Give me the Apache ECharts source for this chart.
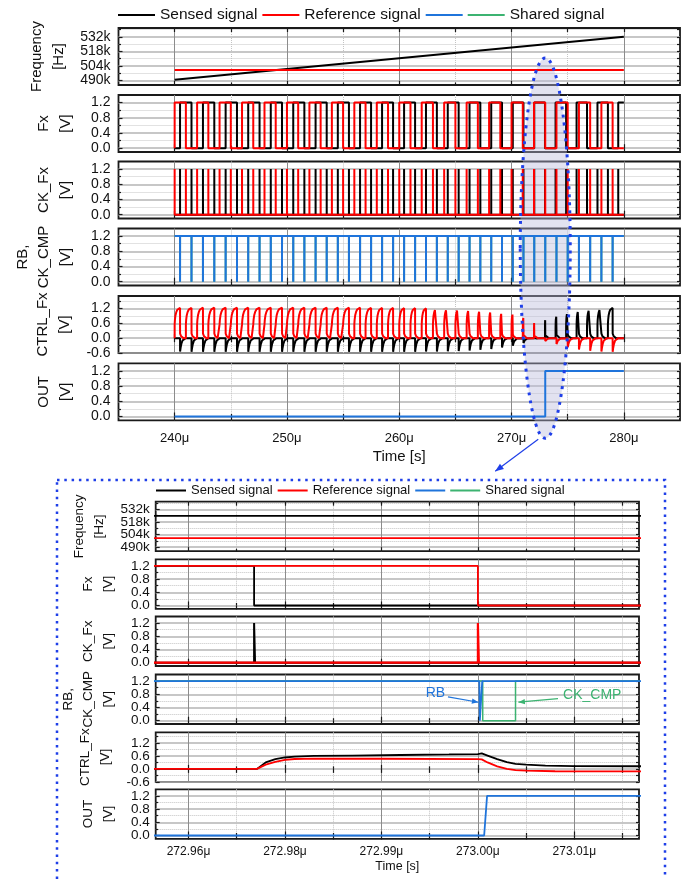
<!DOCTYPE html>
<html>
<head>
<meta charset="utf-8">
<script src="https://cdn.jsdelivr.net/npm/echarts@6/dist/echarts.min.js"></script>
<style>
html, body { margin: 0; padding: 0; background: #fff; }
#chart { width: 690px; height: 879px; }
</style>
</head>
<body>
<div id="chart"></div>
<script>
// ---------------- data ----------------
var freqTicks = [490, 504, 518, 532];
var freqMinor = [497, 511, 525, 539];
var voltTicks = [0, 0.4, 0.8, 1.2];
var voltMinor = [0.2, 0.6, 1.0];
var ctrlTicks = [-0.6, 0, 0.6, 1.2];
var ctrlMinor = [-0.3, 0.3, 0.9, 1.5];

var topTimeTicks = [240, 250, 260, 270, 280];               // us
var topTimeMinor = [245, 255, 265, 275];
var topTimeLabels = ['240μ', '250μ', '260μ', '270μ', '280μ'];
var zoomTimeTicks = [272970, 272980, 272990, 273000, 273010]; // ns
var zoomTimeMinor = [272975, 272985, 272995, 273005, 273015];
var zoomTimeLabels = ['272.96μ', '272.98μ', '272.99μ', '273.00μ', '273.01μ'];

// frequency in kHz
var sensedFreq = [[240, 490.6], [280, 532]];
var refFreq = [[240, 500], [280, 500]];

// Fx edges (us): both square waves start low
var refEdges = [240, 241, 242, 243, 244, 245, 246, 247, 248, 249, 250, 251, 252, 253, 254, 255, 256, 257, 258, 259,
  260, 261, 262, 263, 264, 265, 266, 267, 268, 269, 270, 271, 272, 273, 274, 275, 276, 277, 278, 279];
var sensedEdges = [240.48, 241.50, 242.52, 243.53, 244.54, 245.55, 246.55, 247.56, 248.56, 249.56,
  250.56, 251.55, 252.55, 253.54, 254.53, 255.52, 256.51, 257.49, 258.47, 259.45,
  260.43, 261.41, 262.38, 263.35, 264.32, 265.29, 266.26, 267.22, 268.19, 269.15,
  270.11, 271.06, 272.02, 272.977, 273.92, 274.86, 275.79, 276.72, 277.65, 278.58, 279.50];
// reset pulses (us)
var rbTimes = [240.48, 241.50, 242.52, 243.53, 244.54, 245.55, 246.55, 247.56, 248.56, 249.56,
  250.56, 251.55, 252.55, 253.54, 254.53, 255.52, 256.51, 257.49, 258.47, 259.45,
  260.43, 261.41, 262.38, 263.35, 264.32, 265.29, 266.26, 267.22, 268.19, 269.15,
  270.11, 271.06, 272.02, 273.00, 274.00, 275.00, 276.00, 277.00, 278.00, 279.00];
// CTRL_Fx pulse peaks (leading signal) and dips (lagging signal), V
var ctrlPeaks = [1.22, 1.22, 1.23, 1.23, 1.23, 1.23, 1.23, 1.23, 1.23, 1.23,
  1.23, 1.23, 1.23, 1.23, 1.23, 1.23, 1.23, 1.22, 1.22, 1.22,
  1.21, 1.21, 1.20, 1.20, 1.19, 1.18, 1.16, 1.13, 1.10, 1.04,
  0.97, 0.83, 0.65, 0.74, 0.88, 1.03, 1.12, 1.17, 1.20, 1.22];
var ctrlDips = [-0.54, -0.55, -0.55, -0.55, -0.55, -0.55, -0.55, -0.55, -0.55, -0.55,
  -0.55, -0.55, -0.55, -0.55, -0.55, -0.55, -0.55, -0.55, -0.55, -0.55,
  -0.55, -0.55, -0.54, -0.54, -0.53, -0.52, -0.50, -0.47, -0.44, -0.38,
  -0.31, -0.20, -0.08, -0.12, -0.24, -0.37, -0.46, -0.51, -0.54, -0.55];
// pulse outlines: [fraction of pulse time, fraction of peak]
var riseShape = [[0, 0.45], [0.05, 0.6], [0.15, 0.75], [0.3, 0.86], [0.5, 0.94], [0.75, 0.98], [1, 1]];
var dropShape = [[0.004, 0.15], [0.1, 0.06], [0.3, 0]];       // [us after reset, fraction of peak]
var dipShape = [[0.004, 1], [0.05, 0.72], [0.12, 0.42], [0.22, 0.18], [0.36, 0.05], [0.5, 0]];
var outTop = [[240, 0], [273.0, 0], [273.0, 1.2], [280, 1.2]];

// zoomed window (ns)
var zoomSensedFreq = [[272960, 524.8], [273020, 524.8]];
var zoomRefFreq = [[272960, 500], [273020, 500]];
var zoomSensedFx = [[272960, 1.2], [272976.8, 1.2], [272976.8, 0], [273020, 0]];
var zoomRefFx = [[272960, 1.2], [273000, 1.2], [273000, 0], [273020, 0]];
var zoomSensedCk = [[272960, 0], [272976.8, 0], [272976.8, 1.2], [272976.9, 1.2], [272976.9, 0], [273020, 0]];
var zoomRefCk = [[272960, 0], [273000, 0], [273000, 1.2], [273000.1, 1.2], [273000.1, 0], [273020, 0]];
var zoomRb = [[272960, 1.2], [273000.15, 1.2], [273000.2, 0], [273000.4, 0], [273000.45, 1.2],
  [273004.2, 1.2], [273004.25, 1.15], [273004.35, 1.2], [273020, 1.2]];
var zoomCkCmp = [[272960, 1.2], [273000.5, 1.2], [273000.5, 0], [273003.9, 0], [273003.9, 1.2], [273020, 1.2]];
var zoomSensedCtrl = [[272960, 0], [272977.1, 0], [272978, 0.3], [272979, 0.45], [272980, 0.53], [272981, 0.57],
  [272983, 0.6], [272987, 0.62], [272992, 0.645], [272997, 0.67], [273000, 0.69], [273000.4, 0.72],
  [273001, 0.62], [273002, 0.45], [273003, 0.31], [273003.9, 0.23], [273004.1, 0.26], [273005, 0.2],
  [273007, 0.15], [273010, 0.13], [273020, 0.12]];
var zoomRefCtrl = [[272960, 0], [272977.1, 0], [272978, 0.2], [272979, 0.33], [272980, 0.42], [272981, 0.46],
  [272983, 0.48], [272990, 0.47], [273000, 0.45], [273000.4, 0.44], [273001, 0.3], [273002, 0.12],
  [273003, 0.0], [273003.9, -0.06], [273004.1, -0.03], [273005, -0.08], [273008, -0.11], [273020, -0.12]];
var zoomOut = [[272960, 0], [273000.65, 0], [273000.95, 1.2], [273020, 1.2]];

// ---------------- helpers ----------------
var FONT = '"Liberation Sans", Arial, sans-serif';
var BLACK = '#000000', RED = '#ff0000', BLUE = '#1f74db', GREEN = '#3cb371', DOTS = '#1f3fe8';
var HIGH = 1.2;

function stepWave(edges, start, t0, t1) {
	var lv = start, pts = [[t0, lv]];
	edges.forEach(function(e) {
		pts.push([e, lv]);
		lv = lv ? 0 : HIGH;
		pts.push([e, lv]);
	});
	pts.push([t1, lv]);
	return pts;
}

function pulses(times, base, peak, w, t0, t1) {
	var pts = [[t0, base]];
	times.forEach(function(t) {
		pts.push([t, base], [t, peak], [t + w, peak], [t + w, base]);
	});
	pts.push([t1, base]);
	return pts;
}

// CTRL_Fx of one signal: rises while it leads, dips when it lags
function buildCtrl(isRef) {
	var pts = [[240, 0]];
	for (var j = 0; j < rbTimes.length; j++) {
		var r = refEdges[j], s = sensedEdges[j], end = rbTimes[j];
		var start = Math.min(r, s);
		var leads = isRef ? r <= s : s < r;
		if (leads) {
			pts.push([start, 0]);
			riseShape.forEach(function(p) { pts.push([start + p[0] * (end - start), p[1] * ctrlPeaks[j]]); });
			dropShape.forEach(function(p) { pts.push([end + p[0], p[1] * ctrlPeaks[j]]); });
		} else {
			pts.push([end, 0]);
			dipShape.forEach(function(p) { pts.push([end + p[0], p[1] * ctrlDips[j]]); });
		}
	}
	pts.push([280, 0]);
	return pts;
}

function lookup(vals, labels, v) {
	for (var i = 0; i < vals.length; i++) {
		if (Math.abs(vals[i] - v) < 1e-6) return labels[i];
	}
	return '';
}

function volt(v) { return v.toFixed(1); }

// every other entry, so no axis carries two labels closer than its overlap check allows
function alternate(arr, odd) {
	return arr.filter(function(v, i) { return i % 2 === (odd ? 1 : 0); });
}

// ---------------- layout ----------------
var rows = [
	{ name: 'Frequency\n[Hz]', min: 485.5, max: 540.5, major: freqTicks, minor: freqMinor, fmt: function(v) { return v + 'k'; } },
	{ name: 'Fx\n[V]', min: -0.1, max: 1.4, major: voltTicks, minor: voltMinor, fmt: volt },
	{ name: 'CK_Fx\n[V]', min: -0.1, max: 1.4, major: voltTicks, minor: voltMinor, fmt: volt },
	{ name: 'RB,\nCK_CMP\n[V]', min: -0.1, max: 1.4, major: voltTicks, minor: voltMinor, fmt: volt },
	{ name: 'CTRL_Fx\n[V]', min: -0.6, max: 1.7, major: ctrlTicks, minor: ctrlMinor, fmt: volt },
	{ name: 'OUT\n[V]', min: -0.1, max: 1.4, major: voltTicks, minor: voltMinor, fmt: volt }
];

var panels = [{
	left: 118.5, width: 561.5, tops: [28, 95, 161.5, 228.5, 296, 363.3], height: 57,
	xMin: 235, xMax: 285, xMajor: topTimeTicks, xMinor: topTimeMinor, xLabels: topTimeLabels,
	tick: 14, xtick: 13, name: 15, lh: 21.5, title: 15,
	nameGap: 42, margin: 8, xMargin: 12, xNameGap: 29
}, {
	left: 155.7, width: 483.3, tops: [501.7, 559.3, 616.5, 674.5, 732.3, 789.3], height: 49.5,
	xMin: 272966.6, xMax: 273016.7, xMajor: zoomTimeTicks, xMinor: zoomTimeMinor, xLabels: zoomTimeLabels,
	tick: 13.5, xtick: 12, name: 13.5, lh: 20, title: 12.5,
	nameGap: 37, margin: 6, xMargin: 7, xNameGap: 21
}];

var grids = [], xAxes = [], yAxes = [];
var tickLine = { color: '#1a1a1a', width: 1.2 };

panels.forEach(function(pn) {
	rows.forEach(function(row, ri) {
		var g = grids.length;
		var last = ri === rows.length - 1;
		var yLabel = function(vals) {
			return {
				show: true, customValues: vals, margin: pn.margin, fontSize: pn.tick,
				fontFamily: FONT, color: '#111', formatter: row.fmt,
				showMinLabel: true, showMaxLabel: true
			};
		};
		grids.push({
			left: pn.left, top: pn.tops[ri], width: pn.width, height: pn.height,
			show: true, borderColor: '#1a1a1a', borderWidth: 1.8, backgroundColor: 'transparent'
		});
		// x: majors (bottom), minors (bottom overlay), all ticks on top
		xAxes.push({
			gridIndex: g, type: 'value', min: pn.xMin, max: pn.xMax, position: 'bottom',
			axisLine: { show: false },
			axisTick: { show: true, inside: true, length: 4, customValues: pn.xMajor, lineStyle: tickLine },
			axisLabel: {
				show: last, customValues: pn.xMajor, margin: pn.xMargin, fontSize: pn.xtick,
				fontFamily: FONT, color: '#111', showMinLabel: true, showMaxLabel: true,
				formatter: function(v) { return lookup(pn.xMajor, pn.xLabels, v); }
			},
			splitLine: { show: true, lineStyle: { color: '#8c8c8c', width: 1 } },
			name: last ? 'Time [s]' : '', nameLocation: 'middle', nameGap: pn.xNameGap,
			nameTextStyle: { fontSize: pn.title, fontFamily: FONT, color: '#111' }
		});
		xAxes.push({
			gridIndex: g, type: 'value', min: pn.xMin, max: pn.xMax, position: 'bottom',
			axisLine: { show: false },
			axisTick: { show: true, inside: true, length: 2.5, customValues: pn.xMinor, lineStyle: tickLine },
			axisLabel: { show: false },
			splitLine: { show: true, lineStyle: { color: '#c4c4c4', width: 1, type: 'dotted' } }
		});
		xAxes.push({
			gridIndex: g, type: 'value', min: pn.xMin, max: pn.xMax, position: 'top',
			axisLine: { show: false },
			axisTick: { show: true, inside: true, length: 4, customValues: pn.xMajor.concat(pn.xMinor), lineStyle: tickLine },
			axisLabel: { show: false },
			splitLine: { show: false }
		});
		// y: majors (left, half the labels), minors (left overlay, other half), all ticks on right
		yAxes.push({
			gridIndex: g, type: 'value', min: row.min, max: row.max, position: 'left',
			axisLine: { show: false },
			axisTick: { show: true, inside: true, length: 4, customValues: row.major, lineStyle: tickLine },
			axisLabel: yLabel(alternate(row.major, false)),
			splitLine: { show: true, lineStyle: { color: '#b4b4b4', width: 1.5 } },
			name: row.name, nameLocation: 'middle', nameRotate: 90, nameGap: pn.nameGap,
			nameTextStyle: { fontSize: pn.name, lineHeight: pn.lh, fontFamily: FONT, color: '#111' }
		});
		yAxes.push({
			gridIndex: g, type: 'value', min: row.min, max: row.max, position: 'left',
			axisLine: { show: false },
			axisTick: { show: true, inside: true, length: 2.5, customValues: row.minor, lineStyle: tickLine },
			axisLabel: yLabel(alternate(row.major, true)),
			splitLine: { show: true, lineStyle: { color: '#c4c4c4', width: 1, type: 'dotted' } }
		});
		yAxes.push({
			gridIndex: g, type: 'value', min: row.min, max: row.max, position: 'right',
			axisLine: { show: false },
			axisTick: { show: true, inside: true, length: 3, customValues: row.major.concat(row.minor), lineStyle: tickLine },
			axisLabel: { show: false },
			splitLine: { show: false }
		});
	});
});

function line(name, color, g, data, width) {
	return {
		type: 'line', name: name, xAxisIndex: 3 * g, yAxisIndex: 3 * g, data: data,
		showSymbol: false, symbol: 'none', color: color, silent: true, animation: false,
		lineStyle: { width: width || 2, color: color }
	};
}

var series = [
	// full run
	line('Sensed signal', BLACK, 0, sensedFreq),
	line('Reference signal', RED, 0, refFreq),
	line('Sensed signal', BLACK, 1, stepWave(sensedEdges, 0, 240, 280)),
	line('Reference signal', RED, 1, stepWave(refEdges, 0, 240, 280)),
	line('Sensed signal', BLACK, 2, pulses(sensedEdges, 0, HIGH, 0.004, 240, 280)),
	line('Reference signal', RED, 2, pulses(refEdges, 0, HIGH, 0.004, 240, 280)),
	line('Shared signal', GREEN, 3, pulses(rbTimes, HIGH, 0, 0.0035, 240, 280)),
	line('RB', BLUE, 3, pulses(rbTimes, HIGH, 0, 0.003, 240, 280)),
	line('Sensed signal', BLACK, 4, buildCtrl(false)),
	line('Reference signal', RED, 4, buildCtrl(true)),
	line('RB', BLUE, 5, outTop),
	// zoomed window
	line('Sensed signal', BLACK, 6, zoomSensedFreq, 1.8),
	line('Reference signal', RED, 6, zoomRefFreq, 1.8),
	line('Sensed signal', BLACK, 7, zoomSensedFx, 1.8),
	line('Reference signal', RED, 7, zoomRefFx, 1.8),
	line('Sensed signal', BLACK, 8, zoomSensedCk, 2),
	line('Reference signal', RED, 8, zoomRefCk, 2.2),
	line('Shared signal', GREEN, 9, zoomCkCmp, 1.5),
	line('RB', BLUE, 9, zoomRb, 1.8),
	line('Sensed signal', BLACK, 10, zoomSensedCtrl, 1.8),
	line('Reference signal', RED, 10, zoomRefCtrl, 1.8),
	line('RB', BLUE, 11, zoomOut, 1.8)
];

function legend(left, top, size, w) {
	return {
		left: left, top: top, padding: 0, itemGap: 5, itemWidth: w, itemHeight: 2, icon: 'rect',
		selectedMode: false,
		data: ['Sensed signal', 'Reference signal', 'RB', 'Shared signal'],
		formatter: function(n) { return n === 'RB' ? '' : n; },
		textStyle: { fontSize: size, fontFamily: FONT, color: '#111' }
	};
}

var chart = echarts.init(document.getElementById('chart'));
chart.setOption({
	animation: false,
	backgroundColor: '#fff',
	legend: [legend(118, 7, 15.5, 37), legend(156, 484, 13, 30)],
	grid: grids,
	xAxis: xAxes,
	yAxis: yAxes,
	series: series
});

// ---------------- annotations ----------------
function arrowHead(x1, y1, x2, y2, size, color) {
	var a = Math.atan2(y2 - y1, x2 - x1);
	return {
		type: 'polygon', z: 100,
		shape: { points: [[x2, y2],
			[x2 - size * Math.cos(a - 0.38), y2 - size * Math.sin(a - 0.38)],
			[x2 - size * Math.cos(a + 0.38), y2 - size * Math.sin(a + 0.38)]] },
		style: { fill: color }
	};
}

function arrow(p1, p2, color, size) {
	return [{
		type: 'line', z: 100,
		shape: { x1: p1[0], y1: p1[1], x2: p2[0], y2: p2[1] },
		style: { stroke: color, lineWidth: 1.2 }
	}, arrowHead(p1[0], p1[1], p2[0], p2[1], size, color)];
}

var p = panels[0];
var cx = chart.convertToPixel({ xAxisIndex: 0, yAxisIndex: 0 }, [273.0, 500])[0];
var yTop = p.tops[0] + 30, yBot = p.tops[5] + p.height + 18;
var cy = (yTop + yBot) / 2, ry = (yBot - yTop) / 2;

var rbAx = { xAxisIndex: 27, yAxisIndex: 27 };
var rbText = chart.convertToPixel(rbAx, [272995.6, 0.82]);
var rbA1 = chart.convertToPixel(rbAx, [272996.9, 0.72]);
var rbA2 = chart.convertToPixel(rbAx, [273000.05, 0.56]);
var ckText = chart.convertToPixel(rbAx, [273011.85, 0.76]);
var ckA1 = chart.convertToPixel(rbAx, [273008.3, 0.67]);
var ckA2 = chart.convertToPixel(rbAx, [273004.2, 0.56]);

var graphics = [
	{ type: 'ellipse', z: 1, silent: true, shape: { cx: cx, cy: cy, rx: 25, ry: ry },
		style: { fill: 'rgba(185, 185, 220, 0.42)' } },
	{ type: 'ellipse', z: 100, silent: true, shape: { cx: cx, cy: cy, rx: 25, ry: ry },
		style: { fill: null, stroke: DOTS, lineWidth: 3, lineDash: [3, 5] } },
	{ type: 'rect', z: 100, silent: true, shape: { x: 57, y: 480, width: 608, height: 420 },
		style: { fill: null, stroke: DOTS, lineWidth: 2.5, lineDash: [2.5, 4.8] } },
	{ type: 'text', z: 100, x: rbText[0], y: rbText[1],
		style: { text: 'RB', fill: BLUE, font: '14px ' + FONT, align: 'center', verticalAlign: 'middle' } },
	{ type: 'text', z: 100, x: ckText[0], y: ckText[1],
		style: { text: 'CK_CMP', fill: GREEN, font: '14px ' + FONT, align: 'center', verticalAlign: 'middle' } }
].concat(arrow([cx - 7, yBot + 1], [cx - 50, yBot + 33], '#1f3fe8', 9))
	.concat(arrow(rbA1, rbA2, BLUE, 7))
	.concat(arrow(ckA1, ckA2, GREEN, 7));

chart.setOption({ graphic: graphics });
</script>
</body>
</html>
